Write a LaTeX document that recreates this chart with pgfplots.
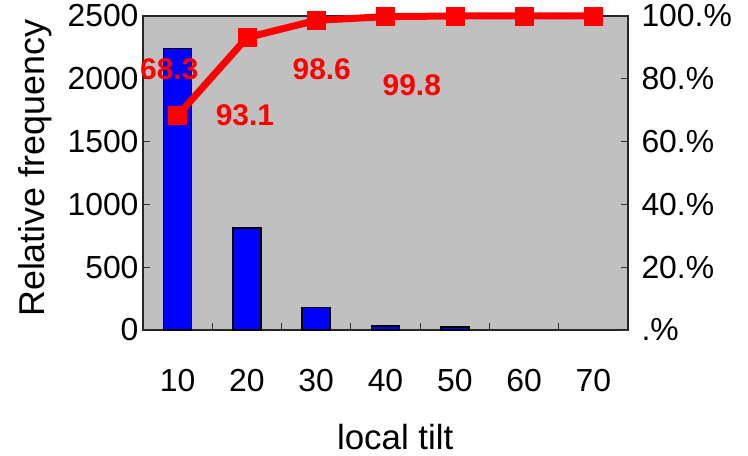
\documentclass[border=0pt]{standalone}
\usepackage{fontspec}
\setmainfont{Liberation Sans}
\usepackage{pgfplots}
\pgfplotsset{compat=1.18}
\definecolor{bgc}{HTML}{C0C0C0}
\definecolor{pblue}{HTML}{0000FF}
\definecolor{pred}{HTML}{FF0000}
\begin{document}
\begin{tikzpicture}
\pgfplotsset{
  every axis/.append style={
    scale only axis, width=485bp, height=314bp, at={(0bp,0bp)}, anchor=south west,
    xmin=0.5, xmax=7.5,
    /pgf/number format/assume math mode=true,
    /pgf/number format/1000 sep={},
    tick label style={font=\fontsize{32}{36}\selectfont},
    major tick length=7bp,
    tick style={black!80, line width=1bp},
    axis line style={black!85, line width=1.3bp},
  }
}
\begin{axis}[
  axis background/.style={fill=bgc},
  ymin=0, ymax=2500, ytick={0,500,...,2500},
  ytick pos=left, xtick pos=bottom,
  yticklabel style={xshift=-1bp},
  xtick={1.5,2.5,...,6.5}, xticklabels={},
  extra x ticks={1,2,3,4,5,6,7},
  extra x tick labels={10,20,30,40,50,60,70},
  extra x tick style={major tick length=0pt, tick label style={yshift=-36bp}},
  ylabel={Relative frequency},
  ylabel style={font=\fontsize{36}{40}\selectfont, at={(axis description cs:-0.223,0.515)}, anchor=center},
  xlabel={local tilt},
  xlabel style={font=\fontsize{35}{40}\selectfont, at={(axis description cs:0.52,-0.342)}, anchor=center},
]
\addplot[ybar, bar width=28bp, fill=pblue, draw=black, line width=1.5bp]
  coordinates {(1,2240) (2,813) (3,180) (4,30) (5,25)};
\end{axis}
\begin{axis}[
  ymin=0, ymax=100, ytick={0,20,...,100},
  yticklabels={.\%,20.\%,40.\%,60.\%,80.\%,100.\%},
  axis y line*=right, axis x line=none,
  clip=false,
  yticklabel style={xshift=10bp},
]
\addplot[pred, line width=7bp, mark=square*, mark size=9bp, mark options={solid, line width=0.5bp}]
  coordinates {(1,68.3) (2,93.1) (3,98.6) (4,99.8) (5,100) (6,100) (7,100)};
\node[text=pred, font=\fontsize{30}{34}\selectfont\bfseries] at (axis cs:0.88,83) {68.3};
\node[text=pred, font=\fontsize{30}{34}\selectfont\bfseries] at (axis cs:1.97,68.5) {93.1};
\node[text=pred, font=\fontsize{30}{34}\selectfont\bfseries] at (axis cs:3.08,83) {98.6};
\node[text=pred, font=\fontsize{30}{34}\selectfont\bfseries] at (axis cs:4.38,77.8) {99.8};
\end{axis}
\path[use as bounding box] (-143bp,-126bp) rectangle (605bp,330bp);
\end{tikzpicture}
\end{document}
